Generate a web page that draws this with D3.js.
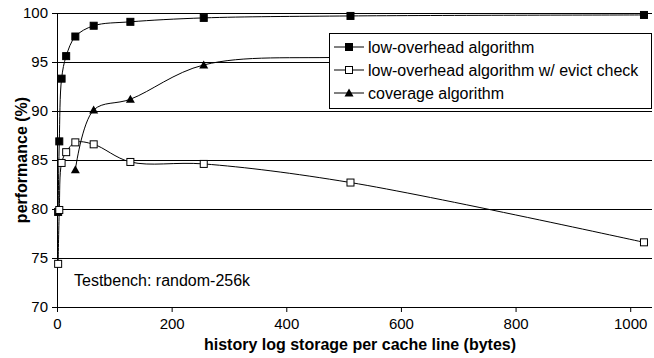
<!DOCTYPE html>
<html>
<head>
<meta charset="utf-8">
<script src="https://cdn.jsdelivr.net/npm/d3@7"></script>
<style>
  body { margin: 0; background: #fff; }
  svg { font-family: "Liberation Sans", Arial, sans-serif; }
</style>
</head>
<body>
<svg width="654" height="358"></svg>
<script>
// values
const lowX = [2, 4, 8, 16, 32, 64, 128, 256, 512, 1024]
const lowY = [79.7, 86.9, 93.3, 95.6, 97.6, 98.7, 99.1, 99.5, 99.7, 99.8]
const evictX = [2, 4, 8, 16, 32, 64, 128, 256, 512, 1024]
const evictY = [74.4, 79.9, 84.7, 85.8, 86.8, 86.6, 84.8, 84.6, 82.7, 76.6]
const covX = [32, 64, 128, 256, 512, 1024]
const covY = [84.0, 90.1, 91.2, 94.7, 95.5, 95.7]
const xTicks = [0, 200, 400, 600, 800, 1000]
const yTicks = [70, 75, 80, 85, 90, 95, 100]
const seriesNames = ["low-overhead algorithm", "low-overhead algorithm w/ evict check", "coverage algorithm"]

const svg = d3.select("svg")
const plotLeft = 57, plotTop = 13, plotRight = 652, plotBottom = 307

const x = d3.scaleLinear().domain([0, 1038]).range([plotLeft, plotRight])
const y = d3.scaleLinear().domain([70, 100]).range([plotBottom, plotTop])

// grid lines
svg.append("g")
  .selectAll("line")
  .data(yTicks.filter((d) => d > 70))
  .enter()
  .append("line")
  .attr("x1", plotLeft).attr("x2", plotRight)
  .attr("y1", (d) => y(d) + 0.5).attr("y2", (d) => y(d) + 0.5)
  .attr("stroke", "#000").attr("stroke-width", 1)

// axes
const yAxis = svg.append("g")
  .attr("transform", `translate(${plotLeft},0)`)
  .call(d3.axisLeft(y).tickValues(yTicks).tickSize(5).tickPadding(4).tickFormat(d3.format("d")))
const xAxis = svg.append("g")
  .attr("transform", `translate(0,${plotBottom})`)
  .call(d3.axisBottom(x).tickValues(xTicks).tickSize(5).tickPadding(6).tickFormat(d3.format("d")))
xAxis.select(".domain").attr("d", `M${plotLeft},0.5H${plotRight}`)
yAxis.select(".domain").attr("d", `M0.5,${plotTop}V${plotBottom}`)
svg.selectAll(".tick text").attr("font-size", 15).attr("fill", "#000")
  .attr("font-family", "Liberation Sans, Arial, sans-serif")
svg.selectAll(".domain, .tick line").attr("stroke", "#000")

// axis titles
svg.append("text")
  .attr("x", 360).attr("y", 350)
  .attr("text-anchor", "middle")
  .attr("font-size", 16).attr("font-weight", "bold")
  .text("history log storage per cache line (bytes)")
svg.append("text")
  .attr("transform", `translate(27,${(plotTop + plotBottom) / 2}) rotate(-90)`)
  .attr("text-anchor", "middle")
  .attr("font-size", 16).attr("font-weight", "bold")
  .text("performance (%)")

svg.append("text")
  .attr("x", 74).attr("y", 286)
  .attr("font-size", 16)
  .text("Testbench: random-256k")

const line = d3.line()
  .x((d) => x(d[0]))
  .y((d) => y(d[1]))
  .curve(d3.curveCatmullRom.alpha(0.5))

const series = [
  { pts: d3.zip(lowX, lowY), marker: "fsq" },
  { pts: d3.zip(evictX, evictY), marker: "osq" },
  { pts: d3.zip(covX, covY), marker: "tri" },
]

function drawMarker(g, kind, cx, cy) {
  if (kind === "tri") {
    g.append("path")
      .attr("d", `M${cx},${cy - 4.5}L${cx + 4.5},${cy + 3.5}L${cx - 4.5},${cy + 3.5}Z`)
      .attr("fill", "#000")
  } else {
    g.append("rect")
      .attr("x", cx - 3.5).attr("y", cy - 3.5)
      .attr("width", 7).attr("height", 7)
      .attr("fill", kind === "fsq" ? "#000" : "#fff")
      .attr("stroke", "#000").attr("stroke-width", 1)
  }
}

series.forEach((s) => {
  svg.append("path")
    .attr("d", line(s.pts))
    .attr("fill", "none").attr("stroke", "#000").attr("stroke-width", 1)
})
series.forEach((s) => {
  const g = svg.append("g")
  s.pts.forEach((p) => drawMarker(g, s.marker, x(p[0]), y(p[1])))
})

// legend
const lg = svg.append("g")
lg.append("rect")
  .attr("x", 329.5).attr("y", 33.5)
  .attr("width", 322).attr("height", 75)
  .attr("fill", "#fff").attr("stroke", "#000")
seriesNames.forEach((name, i) => {
  const ly = 47 + i * 23
  lg.append("line")
    .attr("x1", 334).attr("x2", 364).attr("y1", ly).attr("y2", ly)
    .attr("stroke", "#000")
  drawMarker(lg, series[i].marker, 349, ly)
  lg.append("text")
    .attr("x", 368).attr("y", ly + 5.5)
    .attr("font-size", 16)
    .text(name)
})
</script>
</body>
</html>
